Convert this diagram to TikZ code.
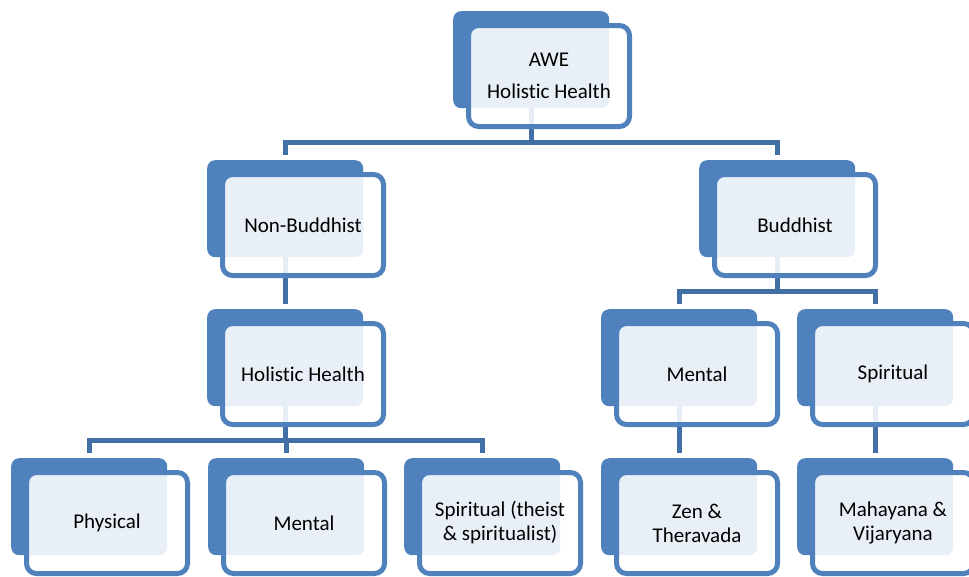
\documentclass[tikz,border=0pt]{standalone}
\usepackage{fontspec}
\setmainfont{Carlito}[Ligatures={NoCommon,NoRare}]
\pgfdeclarelayer{bg}
\pgfsetlayers{bg,main}
\definecolor{boxblue}{HTML}{4F81BD}
\definecolor{linkblue}{HTML}{416FA6}
\tikzset{
  backbox/.style={fill=boxblue, rounded corners=8pt, minimum width=156pt, minimum height=97pt, inner sep=0pt, anchor=north west},
  frontbox/.style={draw=boxblue, line width=5pt, fill=white, fill opacity=0.88, text opacity=1, rounded corners=10pt, minimum width=161pt, minimum height=101pt, inner sep=0pt, anchor=north west, align=center, font=\fontsize{21}{24}\selectfont},
  conn/.style={draw=linkblue, line width=5pt, shorten >=5pt},
}
\newcommand{\orgunit}[4]{%
  \node[backbox] (#1b) at (#2,#3) {};
  \node[frontbox] (#1) at ($(#1b.north west)+(13pt,-12pt)$) {#4};
}
\usetikzlibrary{calc}
\begin{document}
\begin{tikzpicture}[x=1pt,y=-1pt]
\useasboundingbox (0,0) rectangle (969,576);
\orgunit{awe}{453}{11}{AWE\\[8pt]Holistic Health}
\orgunit{nb}{207}{160}{Non-Buddhist}
\orgunit{bu}{699}{160}{Buddhist}
\orgunit{hh}{207}{309}{Holistic Health}
\orgunit{me}{601}{309}{Mental}
\orgunit{sp}{797}{309}{Spiritual}
\orgunit{ph}{11}{458}{Physical}
\orgunit{mm}{208}{458}{Mental}
\orgunit{st}{404}{458}{Spiritual (theist\\ \& spiritualist)}
\orgunit{ze}{601}{458}{Zen \&\\ Theravada}
\orgunit{mv}{797}{458}{Mahayana \&\\ Vijaryana}
\coordinate (busa) at (0,142);
\coordinate (busb) at (0,291.5);
\coordinate (busc) at (0,440.5);
\begin{pgfonlayer}{bg}
\draw[conn] (aweb.center) -- (aweb.center |- busa) -| (nbb.north);
\draw[conn] (aweb.center) -- (aweb.center |- busa) -| (bub.north);
\draw[conn] (nbb.center) -- (hhb.north);
\draw[conn] (bub.center) -- (bub.center |- busb) -| (meb.north);
\draw[conn] (bub.center) -- (bub.center |- busb) -| (spb.north);
\draw[conn] (hhb.center) -- (hhb.center |- busc) -| (phb.north);
\draw[conn] (hhb.center) -- (hhb.center |- busc) -| (mmb.north);
\draw[conn] (hhb.center) -- (hhb.center |- busc) -| (stb.north);
\draw[conn] (meb.center) -- (zeb.north);
\draw[conn] (spb.center) -- (mvb.north);
\end{pgfonlayer}
\end{tikzpicture}
\end{document}
